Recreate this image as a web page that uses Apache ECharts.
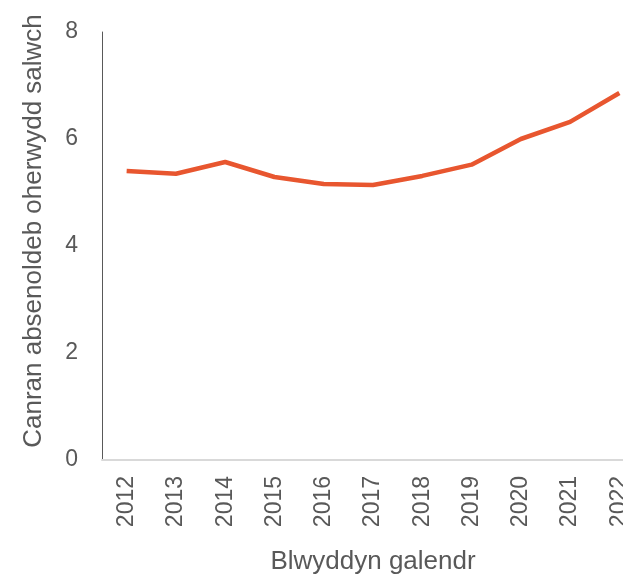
<!DOCTYPE html>
<html>
<head>
<meta charset="utf-8">
<script src="https://cdn.jsdelivr.net/npm/echarts@6/dist/echarts.min.js"></script>
<style>
html, body { margin: 0; padding: 0; background: #fff; }
#chart-panel { width: 623px; height: 576px; }
</style>
</head>
<body>
<div id="chart-panel"></div>
<script>
var years = ['2012', '2013', '2014', '2015', '2016', '2017', '2018', '2019', '2020', '2021', '2022'];
var sicknessRate = [5.40, 5.35, 5.57, 5.29, 5.16, 5.14, 5.31, 5.52, 6.00, 6.32, 6.86];
var yTicks = [0, 2, 4, 6, 8];

var myChart = echarts.init(document.getElementById('chart-panel'));

var textColor = '#595959';
var fontName = 'Liberation Sans, Arial, sans-serif';

myChart.setOption({
    backgroundColor: '#fff',
    animation: false,
    grid: {
        left: 102,
        top: 32,
        width: 542,
        height: 428,
        containLabel: false,
        outerBoundsMode: 'none'
    },
    xAxis: {
        type: 'category',
        data: years,
        boundaryGap: true,
        name: 'Blwyddyn galendr',
        nameLocation: 'middle',
        nameGap: 89,
        nameTextStyle: { color: textColor, fontSize: 26, fontFamily: fontName },
        axisLine: { show: true, lineStyle: { color: '#d9d9d9', width: 2 } },
        axisTick: { show: false },
        axisLabel: {
            rotate: 90,
            margin: 16,
            color: textColor,
            fontSize: 23,
            fontFamily: fontName
        },
        splitLine: { show: false }
    },
    yAxis: {
        type: 'value',
        min: yTicks[0],
        max: yTicks[yTicks.length - 1],
        interval: 2,
        name: 'Canran absenoldeb oherwydd salwch',
        nameLocation: 'middle',
        nameGap: 55,
        nameTextStyle: { color: textColor, fontSize: 26, fontFamily: fontName, padding: [0, 0, 0, 30] },
        axisLine: { show: true, lineStyle: { color: '#595959', width: 1 } },
        axisTick: { show: false },
        axisLabel: {
            margin: 24,
            color: textColor,
            fontSize: 23,
            fontFamily: fontName
        },
        splitLine: { show: false }
    },
    series: [
        {
            name: 'Canran',
            type: 'line',
            data: sicknessRate,
            symbol: 'none',
            lineStyle: { color: '#E8562F', width: 4.5 },
            itemStyle: { color: '#E8562F' }
        }
    ]
});
</script>
</body>
</html>
